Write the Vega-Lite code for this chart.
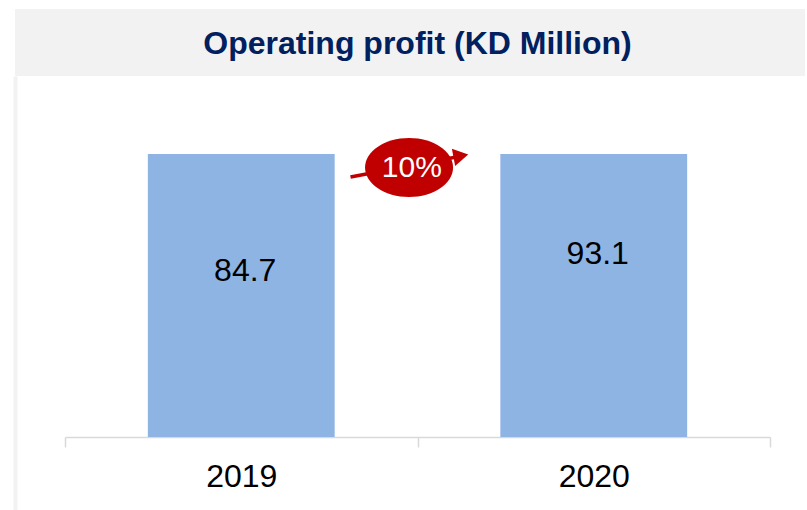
{
  "$schema": "https://vega.github.io/schema/vega-lite/v6.json",
  "padding": {"left": 15, "top": 9, "right": 0, "bottom": 0},
  "background": "white",
  "spacing": 0,
  "config": {"font": "Liberation Sans", "concat": {"spacing": 0}},
  "datasets": {
    "profit": [
      {"year": "2019", "value": 84.7},
      {"year": "2020", "value": 93.1}
    ],
    "growth": [{"change": "10%"}],
    "heading": [{"title": "Operating profit (KD Million)"}]
  },
  "vconcat": [
    {
      "width": 790,
      "height": 67,
      "view": {"fill": "#F2F2F2", "stroke": null},
      "data": {"name": "heading"},
      "mark": {"type": "text", "font": "Liberation Sans", "fontWeight": "bold", "fontSize": 32, "color": "#002060", "baseline": "middle", "align": "center", "dx": 7.5, "dy": 1},
      "encoding": {"text": {"field": "title"}}
    },
    {
      "width": 790,
      "height": 434,
      "view": {"fill": "white", "stroke": null},
      "resolve": {"scale": {"x": "independent", "y": "independent"}},
      "layer": [
        {
          "data": {"name": "profit"},
          "mark": {"type": "bar", "color": "#8EB4E3", "width": {"band": 0.53}},
          "encoding": {
            "x": {
              "field": "year", "type": "nominal",
              "scale": {"range": [50, 755], "paddingInner": 0, "paddingOuter": 0},
              "axis": {
                "title": null, "orient": "bottom", "offset": -73, "labelAngle": 0,
                "tickBand": "extent", "domainColor": "#D9D9D9", "domainWidth": 1.5,
                "tickColor": "#D9D9D9", "tickWidth": 1.5, "tickSize": 10,
                "labelFontSize": 32, "labelColor": "black", "labelFont": "Liberation Sans",
                "labelPadding": 14
              }
            },
            "y": {
              "field": "value", "type": "quantitative",
              "scale": {"domain": [0, 72], "range": [361, 78], "clamp": true, "nice": false, "zero": true},
              "axis": null
            }
          }
        },
        {
          "data": {"name": "profit"},
          "mark": {"type": "text", "fontSize": 32, "color": "black", "baseline": "middle", "align": "center", "dx": 4},
          "encoding": {
            "x": {
              "field": "year", "type": "nominal",
              "scale": {"range": [50, 755], "paddingInner": 0, "paddingOuter": 0},
              "axis": null
            },
            "y": {
              "field": "value", "type": "quantitative",
              "scale": {"domain": [0, 144], "range": [361, 78], "nice": false},
              "axis": null
            },
            "text": {"field": "value", "type": "quantitative", "format": ".1f"}
          }
        },
        {
          "data": {"name": "growth"},
          "mark": {"type": "rule", "color": "#C00000", "strokeWidth": 3.5},
          "encoding": {
            "x": {"datum": 2019.31, "type": "quantitative", "scale": {"domain": [2018.5, 2020.5], "range": [50, 755], "nice": false}, "axis": null},
            "x2": {"datum": 2019.61},
            "y": {"datum": 132.3, "type": "quantitative", "scale": {"domain": [0, 144], "range": [361, 78], "nice": false}, "axis": null},
            "y2": {"datum": 142.5}
          }
        },
        {
          "data": {"name": "growth"},
          "mark": {"type": "point", "shape": "triangle-right", "filled": true, "color": "#C00000", "opacity": 1, "size": 300, "angle": -10.8},
          "encoding": {
            "x": {"datum": 2019.623, "type": "quantitative", "scale": {"domain": [2018.5, 2020.5], "range": [50, 755], "nice": false}, "axis": null},
            "y": {"datum": 143.0, "type": "quantitative", "scale": {"domain": [0, 144], "range": [361, 78], "nice": false}, "axis": null}
          }
        },
        {
          "data": {"name": "growth"},
          "mark": {"type": "point", "shape": "M -1 0 A 1 0.67 0 1 1 1 0 A 1 0.67 0 1 1 -1 0 Z", "filled": true, "color": "#C00000", "opacity": 1, "size": 7744},
          "encoding": {
            "x": {"datum": 2019.476, "type": "quantitative", "scale": {"domain": [2018.5, 2020.5], "range": [50, 755], "nice": false}, "axis": null},
            "y": {"datum": 137.1, "type": "quantitative", "scale": {"domain": [-37.1, 183.7], "nice": false},
              "axis": {"orient": "left", "domain": true, "domainColor": "#F2F2F2", "domainWidth": 4, "ticks": false, "labels": false, "grid": false, "title": null}}
          }
        },
        {
          "data": {"name": "growth"},
          "mark": {"type": "text", "fontSize": 30, "color": "white", "baseline": "middle", "align": "center"},
          "encoding": {
            "x": {"datum": 2019.484, "type": "quantitative", "scale": {"domain": [2018.5, 2020.5], "range": [50, 755], "nice": false}, "axis": null},
            "y": {"datum": 137.0, "type": "quantitative", "scale": {"domain": [0, 144], "range": [361, 78], "nice": false}, "axis": null},
            "text": {"field": "change"}
          }
        }
      ]
    }
  ]
}
